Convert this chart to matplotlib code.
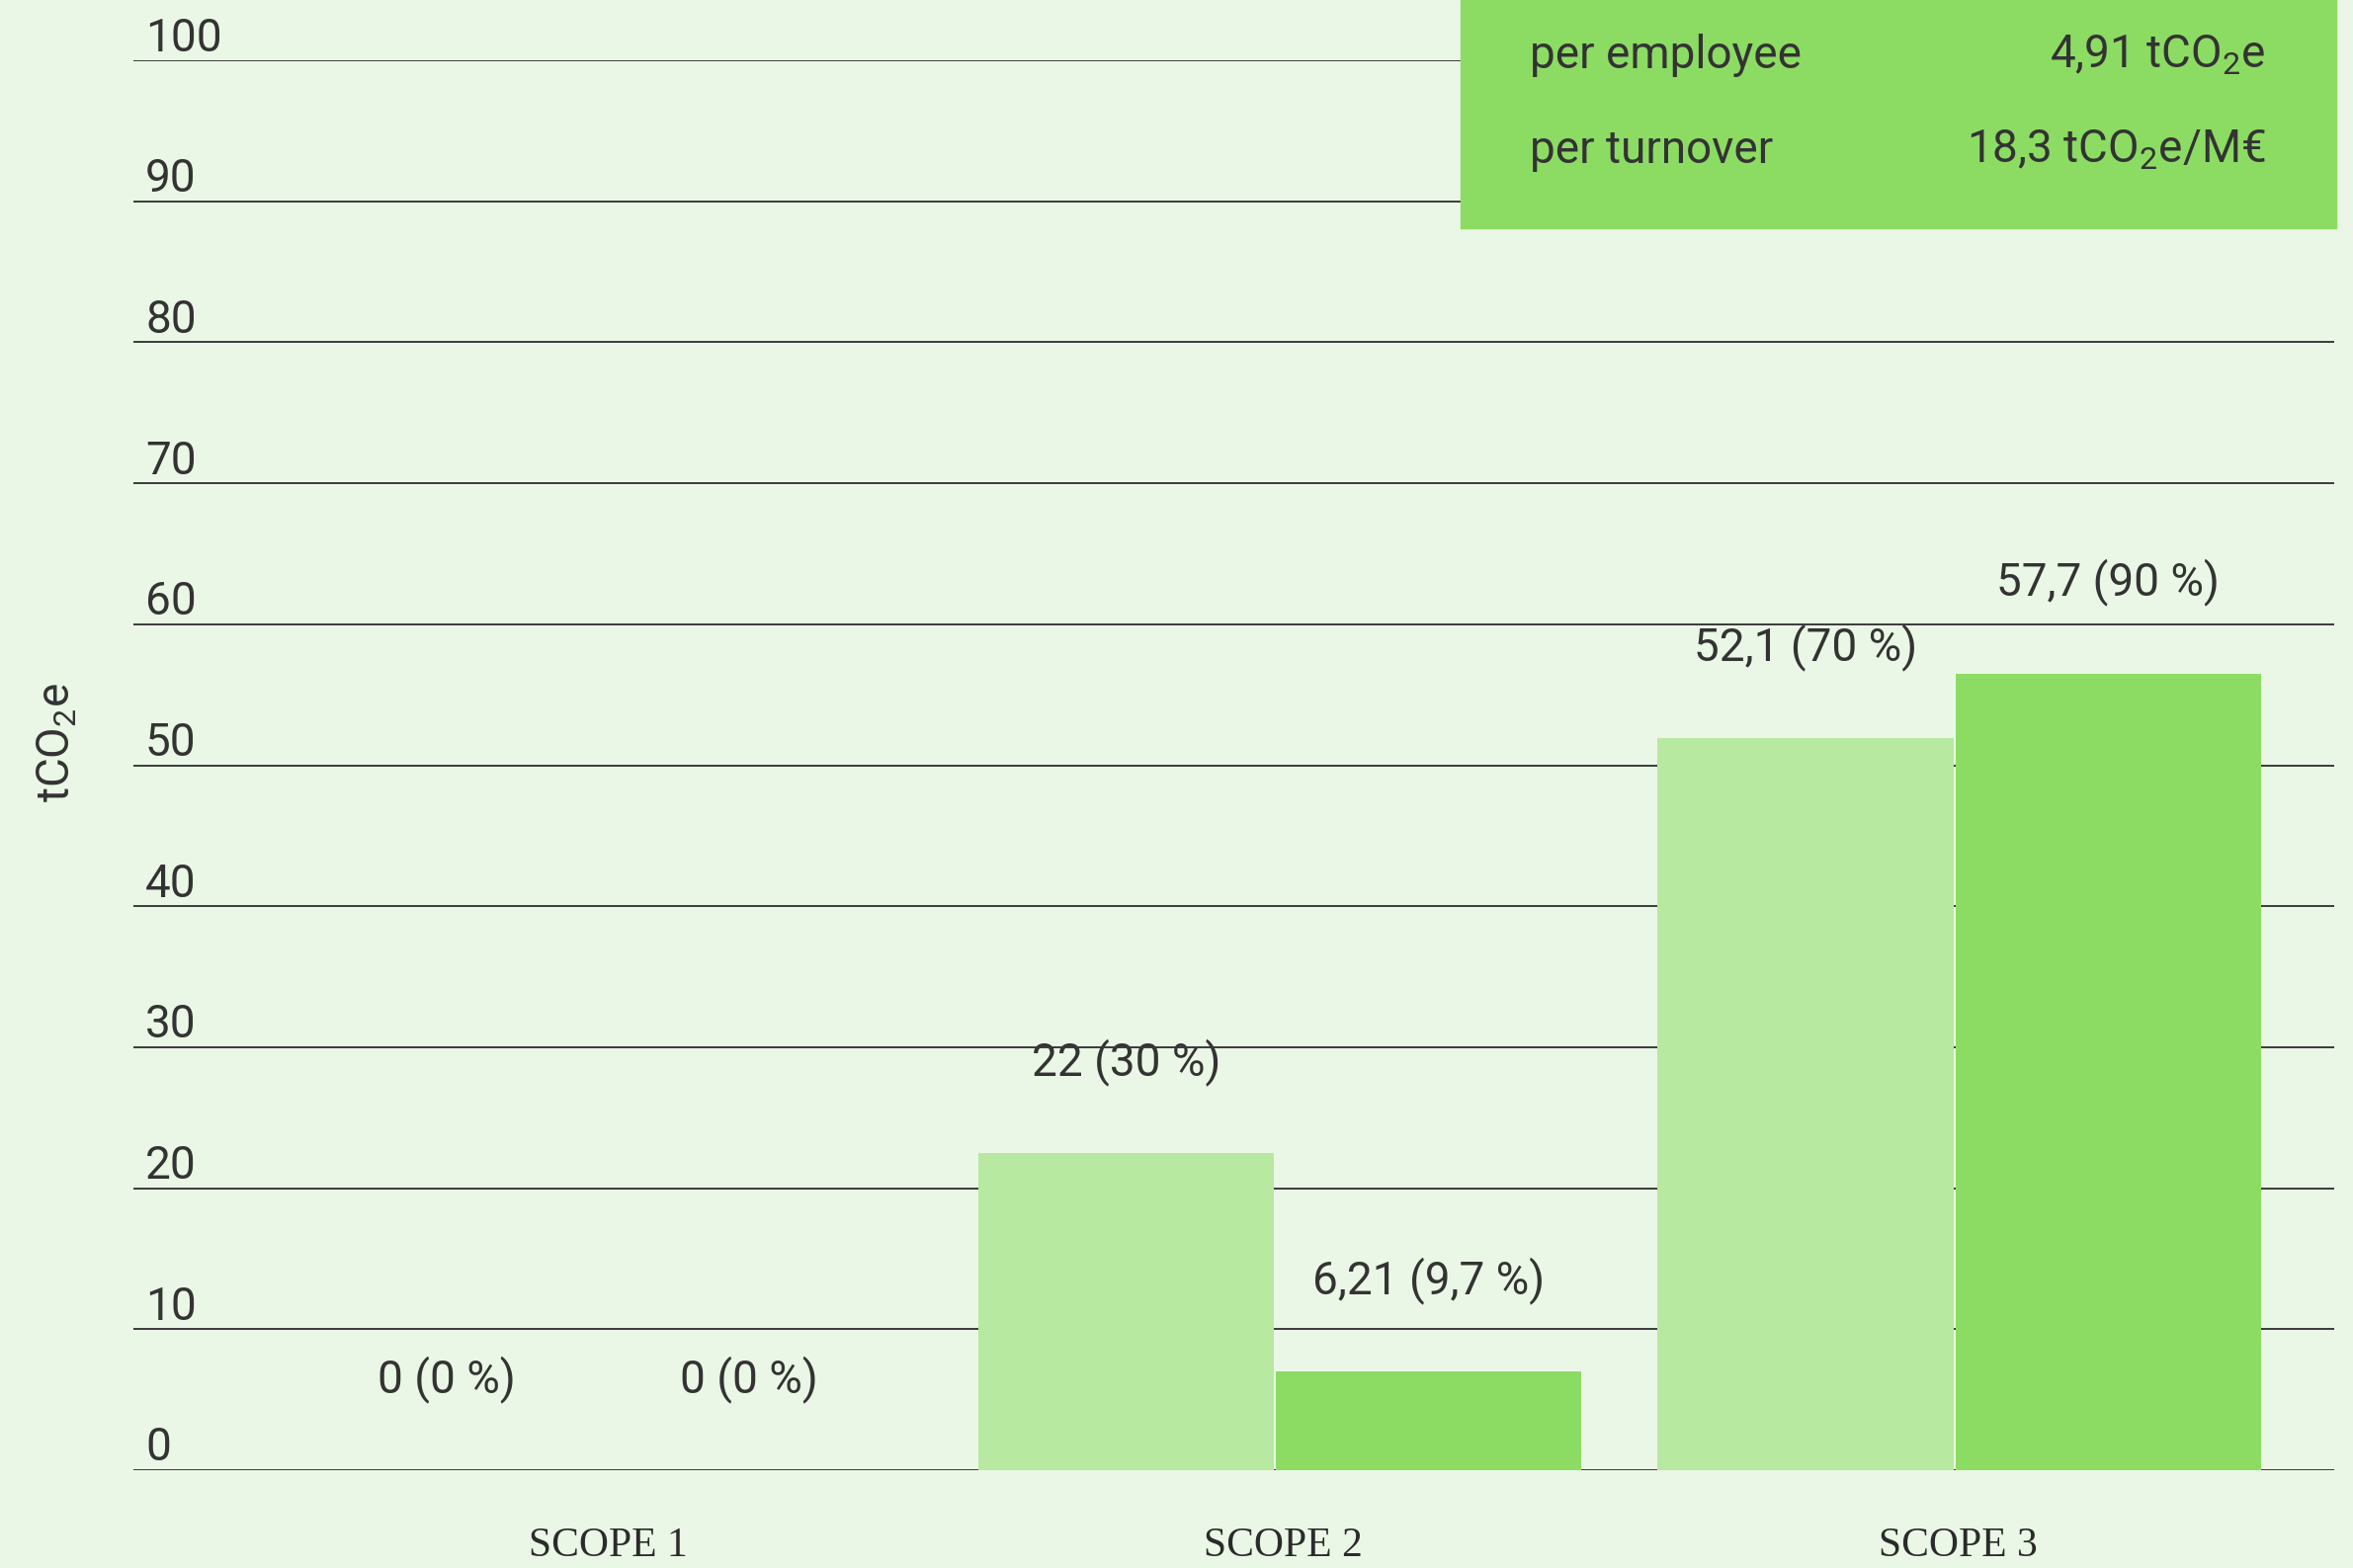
import matplotlib.pyplot as plt
from matplotlib.patches import Rectangle

plt.rcParams['font.family'] = ['Roboto', 'DejaVu Sans']
plt.rcParams['mathtext.fontset'] = 'custom'
plt.rcParams['mathtext.rm'] = 'Roboto'
plt.rcParams['mathtext.it'] = 'Roboto'

# data
scopes = ["SCOPE 1", "SCOPE 2", "SCOPE 3"]
year_a = [0, 22.5, 51.9]      # light bars
year_b = [0, 7.0, 56.5]       # dark bars
labels_a = ["0 (0 %)", "22 (30 %)", "52,1 (70 %)"]
labels_b = ["0 (0 %)", "6,21 (9,7 %)", "57,7 (90 %)"]
yticks = [0, 10, 20, 30, 40, 50, 60, 70, 80, 90, 100]
box_rows = ["per employee", "per turnover"]
box_vals = ["4,91 tCO$_2$e", "18,3 tCO$_2$e/M€"]

bg = '#ebf7e6'
light = '#b7e9a0'
dark = '#8cdc64'
txt = '#333333'
fs = 33

W, H = 2381, 1587
fig = plt.figure(figsize=(W / 100, H / 100), dpi=100, facecolor=bg)
ax = fig.add_axes([135 / W, 1 - 1488 / H, (2362 - 135) / W, (1488 - 61) / H])
ax.set_facecolor(bg)

x = range(len(scopes))
w_a, w_b = 0.436, 0.449
ax.bar([i - 0.444 for i in x], year_a, width=w_a, align='edge', color=light, zorder=3)
ax.bar([i - 0.005 for i in x], year_b, width=w_b, align='edge', color=dark, zorder=3)

for i in x:
    ax.annotate(labels_a[i], (i - 0.444 + w_a / 2, year_a[i]), xytext=(0, 79),
                textcoords='offset pixels', ha='center', va='baseline',
                fontsize=fs, color=txt, zorder=1)
    ax.annotate(labels_b[i], (i - 0.005 + w_b / 2, year_b[i]), xytext=(0, 79),
                textcoords='offset pixels', ha='center', va='baseline',
                fontsize=fs, color=txt, zorder=1)
    ax.text(i * 0.994 + 0.011, -0.061, scopes[i], transform=ax.get_xaxis_transform(),
            ha='center', va='baseline', fontsize=30, color='#2b2b2b',
            family='Liberation Serif')

for t in yticks:
    ax.axhline(t, color='#3a3a3a', lw=1.4, zorder=2)
    ax.annotate(str(t), (147 / W, t), xycoords=('figure fraction', 'data'),
                xytext=(0, 9.5), textcoords='offset pixels',
                ha='left', va='baseline', fontsize=fs, color=txt)

ax.set_xlim(-0.687, 2.552)
ax.set_ylim(0, 100)
ax.set_xticks([])
ax.set_yticks([])
for s in ax.spines.values():
    s.set_visible(False)

fig.text(58 / W, 1 - 752 / H, "tCO$_2$e", rotation=90, ha='center', va='center',
         fontsize=fs, color=txt)

# summary box in the top right corner
fig.add_artist(Rectangle((1478 / W, 1 - 231 / H), (2364 - 1478) / W, 231 / H,
                         transform=fig.transFigure, color=dark, zorder=5))
for k, yb in enumerate([69, 165]):
    fig.text(1548 / W, 1 - yb / H, box_rows[k], ha='left', va='baseline',
             fontsize=fs, color=txt, zorder=6)
    fig.text(2293 / W, 1 - yb / H, box_vals[k], ha='right', va='baseline',
             fontsize=fs, color=txt, zorder=6)

fig.savefig('out.png', dpi=100, facecolor=bg)
